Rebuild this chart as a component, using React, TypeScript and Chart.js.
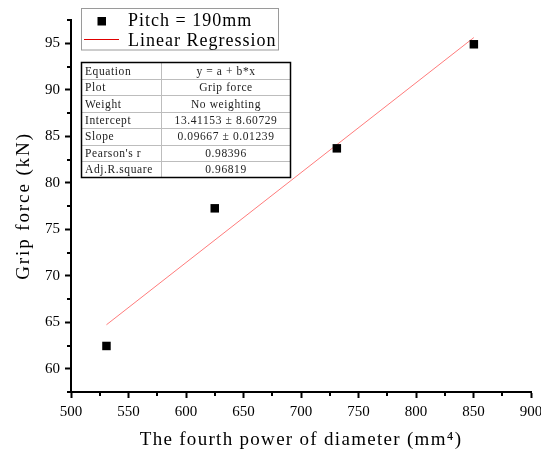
import React, { useEffect, useRef } from 'react';
import { Chart, registerables } from 'chart.js';

Chart.register(...registerables);

// ---- data ----
const pointX = [530.84, 625, 731.16, 850.31];
const pointY = [62.45, 77.25, 83.7, 94.89];
const fitX = [530.84, 850.31];
const fitY = [64.73, 95.61];

const xTicks = [500, 550, 600, 650, 700, 750, 800, 850, 900];
const xMinor = [525, 575, 625, 675, 725, 775, 825, 875];
const yTicks = [60, 65, 70, 75, 80, 85, 90, 95];
const yMinor = [57.5, 62.5, 67.5, 72.5, 77.5, 82.5, 87.5, 92.5, 97.5];

const xTitle = 'The fourth power of diameter (mm\u2074)';
const yTitle = 'Grip force (kN)';
const legendLabels = ['Pitch = 190mm', 'Linear Regression'];
const tableLabels = ['Equation', 'Plot', 'Weight', 'Intercept', 'Slope', "Pearson's r", 'Adj.R.square'];
const tableValues = ['y = a + b*x', 'Grip force', 'No weighting', '13.41153 \u00b1 8.60729', '0.09667 \u00b1 0.01239', '0.98396', '0.96819'];

const FONT = '"Liberation Serif", "DejaVu Serif", serif';
const titleSpacing: Record<string, string> = { x: '1.3px', y: '1.9px' };

const decorPlugin = {
  id: 'decor',
  beforeDraw(chart: any) {
    for (const id of ['x', 'y']) {
      const s = chart.scales[id];
      if (s && !s.__wrapped) {
        const orig = s.drawTitle.bind(s);
        s.drawTitle = function () {
          const ctx = this.ctx;
          ctx.save();
          (ctx as any).letterSpacing = titleSpacing[id];
          orig();
          ctx.restore();
        };
        s.__wrapped = true;
      }
    }
  },
  afterDraw(chart: any) {
    const ctx = chart.ctx as CanvasRenderingContext2D;
    const xs = chart.scales.x;
    const ys = chart.scales.y;
    const area = chart.chartArea;
    ctx.save();
    // minor ticks
    ctx.strokeStyle = '#000';
    ctx.lineWidth = 2;
    ctx.beginPath();
    for (const v of xMinor) {
      const px = Math.round(xs.getPixelForValue(v));
      ctx.moveTo(px, area.bottom);
      ctx.lineTo(px, area.bottom + 4);
    }
    for (const v of yMinor) {
      const py = Math.round(ys.getPixelForValue(v));
      ctx.moveTo(area.left, py);
      ctx.lineTo(area.left - 4, py);
    }
    ctx.stroke();

    // legend
    const lx = 81.5, ly = 8.5, lw = 197, lh = 41.5;
    ctx.fillStyle = '#fff';
    ctx.fillRect(lx, ly, lw, lh);
    ctx.strokeStyle = '#9a9a9a';
    ctx.lineWidth = 1;
    ctx.strokeRect(lx, ly, lw, lh);
    ctx.fillStyle = '#000';
    ctx.fillRect(97.5, 17, 8.5, 8.5);
    ctx.strokeStyle = '#e00000';
    ctx.beginPath();
    ctx.moveTo(84, 39.5);
    ctx.lineTo(119, 39.5);
    ctx.stroke();
    (ctx as any).letterSpacing = '1px';
    ctx.font = '18px ' + FONT;
    ctx.textAlign = 'left';
    ctx.textBaseline = 'alphabetic';
    ctx.fillStyle = '#000';
    ctx.fillText(legendLabels[0], 128, 26);
    ctx.fillText(legendLabels[1], 128, 45.5);

    // table
    const tx = 81.5, ty = 62.5, tw = 209, th = 115;
    const rowH = th / tableLabels.length;
    const colX = 161.5;
    ctx.fillStyle = '#fff';
    ctx.fillRect(tx, ty, tw, th);
    ctx.strokeStyle = '#bdbdbd';
    ctx.lineWidth = 1;
    ctx.beginPath();
    for (let i = 1; i < tableLabels.length; i++) {
      const yy = Math.round(ty + rowH * i) + 0.5;
      ctx.moveTo(tx, yy);
      ctx.lineTo(tx + tw, yy);
    }
    ctx.moveTo(colX, ty);
    ctx.lineTo(colX, ty + th);
    ctx.stroke();
    ctx.strokeStyle = '#000';
    ctx.lineWidth = 1.5;
    ctx.strokeRect(tx, ty, tw, th);
    (ctx as any).letterSpacing = '0.6px';
    ctx.font = '11.5px ' + FONT;
    ctx.fillStyle = '#222';
    ctx.textBaseline = 'middle';
    for (let i = 0; i < tableLabels.length; i++) {
      const cy = ty + rowH * i + rowH / 2 + 1;
      ctx.textAlign = 'left';
      ctx.fillText(tableLabels[i], 85, cy);
      ctx.textAlign = 'center';
      ctx.fillText(tableValues[i], (colX + tx + tw) / 2, cy);
    }
    ctx.restore();
  },
};

export default function App() {
  const ref = useRef<HTMLCanvasElement>(null);
  useEffect(() => {
    if (!ref.current) return;
    const chart = new Chart(ref.current, {
      type: 'scatter',
      data: {
        datasets: [
          {
            label: legendLabels[0],
            data: pointX.map((x, i) => ({ x, y: pointY[i] })),
            pointStyle: 'rect',
            pointRadius: 6,
            pointHoverRadius: 6,
            backgroundColor: '#000',
            borderColor: '#000',
            borderWidth: 0,
            order: 0,
          },
          {
            label: legendLabels[1],
            type: 'line',
            data: fitX.map((x, i) => ({ x, y: fitY[i] })),
            borderColor: '#ff7b7b',
            borderWidth: 1,
            pointRadius: 0,
            showLine: true,
            fill: false,
            order: 1,
          } as any,
        ],
      },
      options: {
        responsive: false,
        animation: false,
        devicePixelRatio: 1,
        layout: { padding: { left: 0, top: 20, right: 10, bottom: 0 } },
        plugins: { legend: { display: false }, tooltip: { enabled: false } },
        scales: {
          x: {
            type: 'linear',
            min: 500,
            max: 900,
            afterBuildTicks: (s: any) => {
              s.ticks = xTicks.map((v) => ({ value: v }));
            },
            afterFit: (s: any) => {
              s.height = 60;
              s.paddingLeft = 0;
              s.paddingRight = 0;
            },
            grid: { display: true, drawOnChartArea: false, drawTicks: true, tickLength: 6, tickWidth: 2, tickColor: '#000' },
            border: { display: true, color: '#000', width: 2 },
            ticks: { color: '#000', font: { family: FONT, size: 15 }, padding: 5, maxRotation: 0, autoSkip: false },
            title: { display: true, text: xTitle, color: '#000', font: { family: FONT, size: 19 }, padding: { top: 2, bottom: 1 } },
          },
          y: {
            type: 'linear',
            min: 57.5,
            max: 97.5,
            afterBuildTicks: (s: any) => {
              s.ticks = yTicks.map((v) => ({ value: v }));
            },
            afterFit: (s: any) => {
              s.width = 71;
              s.paddingTop = 0;
              s.paddingBottom = 0;
            },
            grid: { display: true, drawOnChartArea: false, drawTicks: true, tickLength: 6, tickWidth: 2, tickColor: '#000' },
            border: { display: true, color: '#000', width: 2 },
            ticks: { color: '#000', font: { family: FONT, size: 15 }, padding: 5, autoSkip: false },
            title: { display: true, text: yTitle, color: '#000', font: { family: FONT, size: 19 }, padding: { top: 13, bottom: 0 } },
          },
        },
      },
      plugins: [decorPlugin],
    });
    return () => chart.destroy();
  }, []);
  return (
    <div style={{ position: 'absolute', left: 0, top: 0, width: 541, height: 452, background: '#fff' }}>
      <canvas ref={ref} width={541} height={452} style={{ width: 541, height: 452, display: 'block' }} />
    </div>
  );
}
